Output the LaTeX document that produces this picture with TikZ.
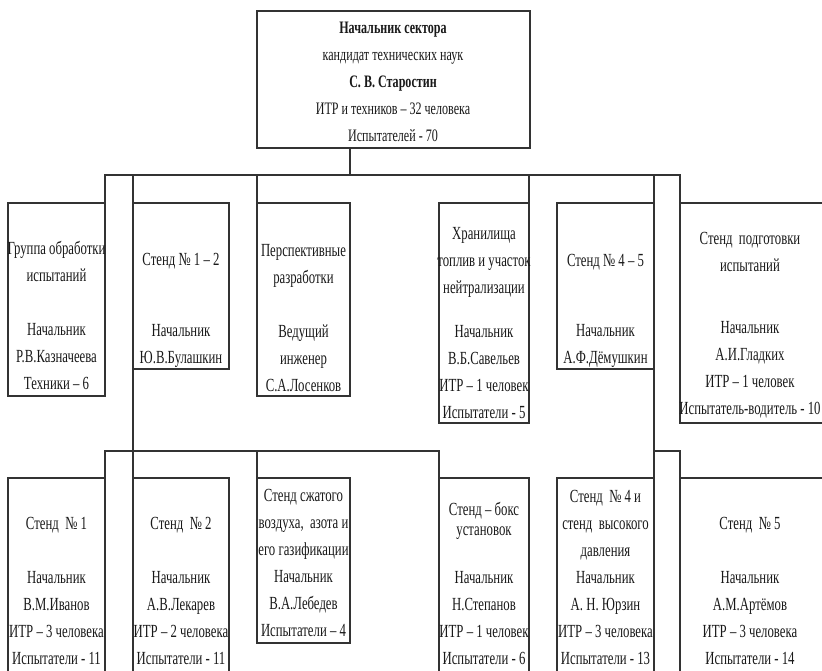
\documentclass[tikz,border=0pt]{standalone}
\usepackage{fontspec}
\setmainfont{Liberation Serif}[FakeStretch=0.69]
\begin{document}
\begin{tikzpicture}[x=1pt,y=-1pt]
      \tikzstyle{every node}+=[inner sep=0pt]
      \tikzstyle{unit}=[draw=black!80, line width=1.2pt, outer sep=0pt, anchor=north west]
      \tikzstyle{caption}=[anchor=base, align=center, text=black!90, font=\fontsize{18.5}{27}\selectfont]
      \tikzstyle{link}=[draw=black!80, line width=1.2pt]
      \useasboundingbox (0,0) rectangle (822,670);
      \fill [white] (0,0) rectangle (822,670);
      \node [unit, minimum width=273, minimum height=137] (chief) at (257,11) {};
      \node [unit, minimum width=97, minimum height=193] (grp) at (8,203) {};
      \node [unit, minimum width=96, minimum height=166] (st12) at (133,203) {};
      \node [unit, minimum width=93, minimum height=193] (persp) at (257,203) {};
      \node [unit, minimum width=90, minimum height=220] (store) at (439,203) {};
      \node [unit, minimum width=97, minimum height=166] (st45) at (557,203) {};
      \node [unit, minimum width=143, minimum height=220] (prep) at (680,203) {};
      \node [unit, minimum width=97, minimum height=210] (st1) at (8,478) {};
      \node [unit, minimum width=96, minimum height=210] (st2) at (133,478) {};
      \node [unit, minimum width=93, minimum height=165] (air) at (257,478) {};
      \node [unit, minimum width=90, minimum height=210] (box) at (439,478) {};
      \node [unit, minimum width=97, minimum height=210] (st4) at (557,478) {};
      \node [unit, minimum width=143, minimum height=210] (st5) at (680,478) {};
      \node [caption, font=\fontsize{17.5}{27}\selectfont] (chiefT) at (393,141) {\textbf{Начальник сектора}\\кандидат технических наук\\\textbf{С. В. Старостин}\\ИТР и техников – 32 человека\\Испытателей - 70};
      \node [caption] (grpT) at (56.5,389) {Группа обработки\\испытаний\\[27pt]Начальник\\Р.В.Казначеева\\Техники – 6};
      \node [caption] (st12T) at (181,363) {Стенд № 1 – 2\\[44pt]Начальник\\Ю.В.Булашкин};
      \node [caption] (perspT) at (303.5,391) {Перспективные\\разработки\\[27pt]Ведущий\\инженер\\С.А.Лосенков};
      \node [caption] (storeT) at (484,418) {Хранилища\\топлив и участок\\нейтрализации\\[17pt]Начальник\\В.Б.Савельев\\ИТР – 1 человек\\Испытатели - 5};
      \node [caption] (st45T) at (605.5,363) {Стенд № 4 – 5\\[43pt]Начальник\\А.Ф.Дёмушкин};
      \node [caption] (prepT) at (750,414) {Стенд~~подготовки\\испытаний\\[35pt]Начальник\\А.И.Гладких\\ИТР – 1 человек\\Испытатель-водитель - 10};
      \node [caption] (st1T) at (56.5,664) {Стенд~~№ 1\\[27pt]Начальник\\В.М.Иванов\\ИТР – 3 человека\\Испытатели - 11};
      \node [caption] (st2T) at (181,664) {Стенд~~№ 2\\[27pt]Начальник\\А.В.Лекарев\\ИТР – 2 человека\\Испытатели - 11};
      \node [caption] (airT) at (303.5,636) {Стенд сжатого\\воздуха,~~азота и\\его газификации\\Начальник\\В.А.Лебедев\\Испытатели – 4};
      \node [caption] (boxT) at (484,664) {Стенд – бокс\\[-7pt]установок\\[21pt]Начальник\\Н.Степанов\\ИТР – 1 человек\\Испытатели - 6};
      \node [caption] (st4T) at (605.5,664) {Стенд~~№ 4 и\\стенд~~высокого\\давления\\Начальник\\А. Н. Юрзин\\ИТР – 3 человека\\Испытатели - 13};
      \node [caption] (st5T) at (750,664) {Стенд~~№ 5\\[27pt]Начальник\\А.М.Артёмов\\ИТР – 3 человека\\Испытатели - 14};
      \coordinate (hub) at (350,175);
      \coordinate (hubb) at (350,451);
      \draw [link] (chief.south -| hub) -- (hub);
      \draw [link] (grp.north east) -- (grp.north east |- hub) -- (prep.north west |- hub) -- (prep.north west);
      \draw [link] (st12.north west |- hub) -- (st2.north west);
      \draw [link] (persp.north west) -- (persp.north west |- hub);
      \draw [link] (store.north east) -- (store.north east |- hub);
      \draw [link] (st45.north east |- hub) -- (st4.north east);
      \draw [link] (st1.north east) -- (st1.north east |- hubb) -- (box.north west |- hubb) -- (box.north west);
      \draw [link] (air.north west) -- (air.north west |- hubb);
      \draw [link] (st4.north east |- hubb) -- (st5.north west |- hubb) -- (st5.north west);
\end{tikzpicture}
\end{document}
